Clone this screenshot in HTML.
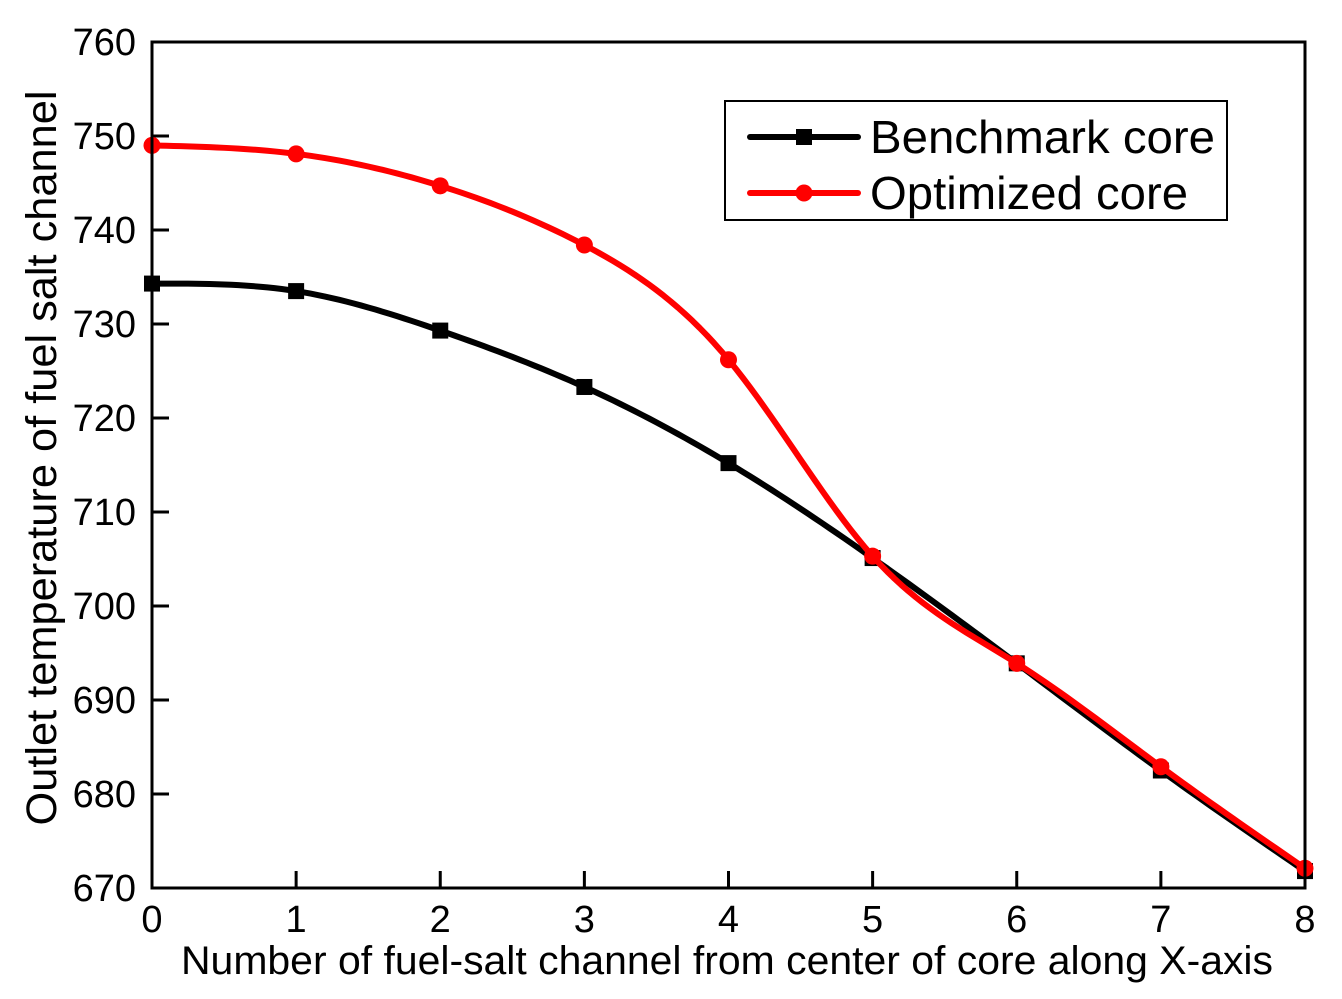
<!DOCTYPE html>
<html><head><meta charset="utf-8"><style>
html,body{margin:0;padding:0;background:#fff;}
svg{display:block;font-family:"Liberation Sans",Arial,sans-serif;}
</style></head><body>
<svg id="chart" width="1342" height="999" viewBox="0 0 1342 999">
<rect x="0" y="0" width="1342" height="999" fill="#fff"/>
<g id="grid"></g>
<g id="series"></g>
<rect x="152" y="42" width="1153" height="846" fill="none" stroke="#000" stroke-width="3"/>
<text x="727" y="974" font-size="40" text-anchor="middle" textLength="1092" lengthAdjust="spacingAndGlyphs">Number of fuel-salt channel from center of core along X-axis</text>
<text transform="translate(56,458) rotate(-90)" font-size="43" text-anchor="middle" textLength="735" lengthAdjust="spacingAndGlyphs">Outlet temperature of fuel salt channel</text>
<g>
<rect x="725" y="101" width="502" height="119" fill="#fff" stroke="#000" stroke-width="2"/>
<g>
<line x1="750" y1="137" x2="858" y2="137" stroke="#000" stroke-width="6" stroke-linecap="round"/>
<rect x="796" y="129" width="16" height="16" fill="#000"/>
<text x="870" y="153" font-size="46" textLength="345" lengthAdjust="spacingAndGlyphs">Benchmark core</text></g>
<g>
<line x1="750" y1="193" x2="858" y2="193" stroke="#f00" stroke-width="6" stroke-linecap="round"/>
<circle cx="804" cy="193" r="8.5" fill="#f00"/>
<text x="870" y="209" font-size="46" textLength="318" lengthAdjust="spacingAndGlyphs">Optimized core</text></g>
</g>
</svg>
<script>
const categories=[0,1,2,3,4,5,6,7,8];
const benchmarkValues=[734.3,733.5,729.3,723.3,715.2,705.1,693.9,682.5,671.8];
const optimizedValues=[749.0,748.1,744.7,738.4,726.2,705.3,693.9,682.9,672.1];
const xTicks=[0,1,2,3,4,5,6,7,8];
const yTicks=[670,680,690,700,710,720,730,740,750,760];
const NS="http://www.w3.org/2000/svg";
const X0=152,X1=1305,Y0=888,Y1=42;
const xs=v=>X0+(v-0)/8*(X1-X0);
const ys=v=>Y0-(v-670)/90*(Y0-Y1);
const svg=document.getElementById('chart');
const grid=document.getElementById('grid');
const ser=document.getElementById('series');
function mk(t,a,p){const e=document.createElementNS(NS,t);for(const k in a)e.setAttribute(k,a[k]);(p||svg).appendChild(e);return e;}
xTicks.forEach(v=>{
 const l=mk('line',{x1:xs(v),x2:xs(v),y1:Y0,y2:Y0-17,stroke:'#000','stroke-width':3},grid);
 
 
 const t=mk('text',{x:xs(v),y:Y0+44,'font-size':38,'text-anchor':'middle'});
 t.textContent=v;
 
 
});
yTicks.forEach(v=>{
 const l=mk('line',{x1:X0,x2:X0+17,y1:ys(v),y2:ys(v),stroke:'#000','stroke-width':3},grid);
 
 
 const t=mk('text',{x:X0-16,y:ys(v)+13,'font-size':38,'text-anchor':'end'});
 t.textContent=v;
 
 
});
// natural cubic spline through data points
function splineD(vals){
 const n=categories.length,x=categories,y=vals;
 const h=[],al=[],l=[1],mu=[0],z=[0],c=new Array(n).fill(0),b=[],d=[];
 for(let i=0;i<n-1;i++)h[i]=x[i+1]-x[i];
 for(let i=1;i<n-1;i++)al[i]=3/h[i]*(y[i+1]-y[i])-3/h[i-1]*(y[i]-y[i-1]);
 for(let i=1;i<n-1;i++){l[i]=2*(x[i+1]-x[i-1])-h[i-1]*mu[i-1];mu[i]=h[i]/l[i];z[i]=(al[i]-h[i-1]*z[i-1])/l[i];}
 l[n-1]=1;z[n-1]=0;
 for(let j=n-2;j>=0;j--){c[j]=z[j]-mu[j]*c[j+1];b[j]=(y[j+1]-y[j])/h[j]-h[j]*(c[j+1]+2*c[j])/3;d[j]=(c[j+1]-c[j])/(3*h[j]);}
 let s='';
 for(let j=0;j<n-1;j++){
  for(let k=0;k<=20;k++){
   const t=h[j]*k/20,v=y[j]+b[j]*t+c[j]*t*t+d[j]*t*t*t;
   if(j>0&&k===0)continue;
   s+=(s?' L':'M')+xs(x[j]+t).toFixed(2)+','+ys(v).toFixed(2);
  }
 }
 return s;
}
function drawSeries(vals,color,marker,name){
 const g=mk('g',{},ser);
 
 
 const p=mk('path',{d:splineD(vals),fill:'none',stroke:color,'stroke-width':6,'stroke-linejoin':'round'},g);
 
 
 categories.forEach((c,i)=>{
  let m;
  if(marker==='square')m=mk('rect',{x:xs(c)-8,y:ys(vals[i])-8,width:16,height:16,fill:color},g);
  else m=mk('circle',{cx:xs(c),cy:ys(vals[i]),r:8.5,fill:color},g);
  
  
 });
}
drawSeries(benchmarkValues,'#000','square','benchmark-series');
drawSeries(optimizedValues,'#f00','circle','optimized-series');
</script>
</body></html>
